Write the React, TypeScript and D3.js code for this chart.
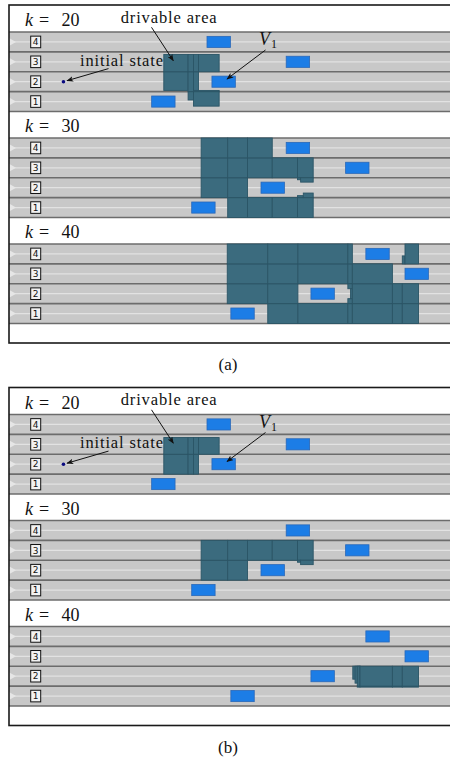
import React from "react";
import * as d3 from "d3";

// ---------- data ----------
const panelLabels = ["(a)", "(b)"];
const timeSteps = [20, 30, 40];
const laneIds = [1, 2, 3, 4];
const vehicleLanes = [4, 3, 2, 1];
const vehicleXk20 = [44.0, 61.6, 45.1, 31.7];
const vehicleXk30 = [61.6, 74.8, 56.0, 40.6];
const vehicleXk40 = [79.3, 88.0, 67.1, 49.3];
const vehicleXByStep = [vehicleXk20, vehicleXk30, vehicleXk40];
const VEH_LEN = 5.2;
const VEH_W = 0.56;
const initialStateX = 12.1;
const initialStateLane = 2;

// drivable area cells: [xStart, xEnd, yBottom, yTop] (metres, lane units)
const drivableA20 = [
  [34.4, 39.8, 1.06, 2.87],
  [39.8, 41.0, 0.58, 2.87],
  [41.0, 42.1, 1.0, 2.87],
  [42.1, 46.7, 2.0, 2.87],
  [41.0, 46.7, 0.27, 1.06],
];
const drivableA30 = [
  [42.7, 48.6, 1, 4],
  [48.6, 53.0, 0, 4],
  [53.0, 58.5, 2, 4],
  [53.0, 58.5, 0, 1],
  [58.5, 64.1, 2, 3],
  [58.5, 64.1, 0, 1],
  [64.1, 67.6, 2, 3],
  [64.1, 67.6, 0, 1],
  [64.1, 64.8, 1.9, 2.0],
  [64.8, 67.6, 1.78, 2.0],
  [64.1, 65.4, 1.0, 1.1],
  [65.4, 67.6, 1.0, 1.23],
];
const drivableA40 = [
  [48.5, 57.5, 1, 4],
  [57.5, 64.2, 0, 4],
  [64.2, 75.3, 2, 4],
  [64.2, 75.3, 0, 1],
  [75.3, 76.3, 2, 4],
  [75.3, 76.3, 0, 1],
  [75.3, 76.3, 1, 1.25],
  [75.3, 76.3, 1.75, 2],
  [75.9, 76.3, 1.25, 1.75],
  [76.3, 85.2, 0, 3],
  [85.2, 87.4, 0, 2],
  [87.4, 91.0, 0, 2],
  [87.4, 88.0, 3, 3.4],
  [88.0, 91.0, 3, 4],
];
const drivableB20 = [
  [34.4, 39.8, 1.0, 2.84],
  [39.8, 41.0, 1.0, 2.84],
  [41.0, 42.1, 1.0, 2.84],
  [42.1, 46.7, 2.0, 2.84],
];
const drivableB30 = [
  [42.7, 48.6, 1, 3],
  [48.6, 53.0, 1, 3],
  [53.0, 58.5, 2, 3],
  [58.5, 64.1, 2, 3],
  [64.1, 67.6, 2, 3],
  [64.1, 64.8, 1.9, 2.0],
  [64.8, 67.6, 1.78, 2.0],
];
const drivableB40 = [
  [76.4, 78.0, 1.35, 2],
  [76.9, 78.0, 1.15, 2],
  [77.4, 78.0, 0.95, 2],
  [78.0, 85.2, 0.95, 2],
  [85.2, 87.4, 0.95, 2],
  [87.4, 91.0, 0.95, 2],
];
const drivableByPanel = [
  [drivableA20, drivableA30, drivableA40],
  [drivableB20, drivableB30, drivableB40],
];

// ---------- layout ----------
const W = 450;
const H = 760;
const FRAME_L = 9;
const FRAME_R = 462;
const panelTops = [5, 387.5];
const subOffsets = [27, 133, 239];
const ROAD_H = 79.5;
const FRAME_H = 338;

const xScale = d3.scaleLinear().domain([0, 100]).range([FRAME_L, FRAME_L + 450]);

const C_ROAD = "#c8c8c8";
const C_LINE = "#6c6c6c";
const C_CENTER = "#e2e2e2";
const C_DRIV = "#3b6b7e";
const C_DRIV_S = "#2b5566";
const C_VEH = "#1c7de6";
const C_VEH_S = "#2a68b8";
const SERIF = "Liberation Serif, Times New Roman, Tinos, DejaVu Serif, serif";

function splitRect(r: number[]) {
  const [x0, x1, y0, y1] = r;
  const out: number[][] = [];
  let a = y0;
  while (a < y1 - 1e-9) {
    const b = Math.min(y1, Math.floor(a + 1e-9) + 1);
    out.push([x0, x1, a, b]);
    a = b;
  }
  return out;
}

function SubPanel({ top, step, stepIdx, panelIdx }: any) {
  const roadTop = top;
  const y = d3.scaleLinear().domain([0, 4]).range([roadTop + ROAD_H, roadTop]);
  const laneH = y(0) - y(1);
  const cells = drivableByPanel[panelIdx][stepIdx].flatMap(splitRect);
  const vx = vehicleXByStep[stepIdx];
  return (
    <g>
      <text y={roadTop - 6} style={{ fontFamily: SERIF }} fontSize={18} fill="#111">
        <tspan x={25} fontStyle="italic">k</tspan>
        <tspan x={39}>=</tspan>
        <tspan x={61.5}>{step}</tspan>
      </text>
      <rect x={FRAME_L} y={y(4)} width={FRAME_R - FRAME_L} height={ROAD_H} fill={C_ROAD} />
      {laneIds.map((l) => (
        <g key={"lc" + l}>
          <line x1={FRAME_L} x2={FRAME_R} y1={y(l - 0.5)} y2={y(l - 0.5)} stroke={C_CENTER} strokeWidth={1.3} />
          <path
            d={`M${FRAME_L},${y(l - 0.5) - 4} L${FRAME_L + 7},${y(l - 0.5)} L${FRAME_L},${y(l - 0.5) + 4} Z`}
            fill="#e6e6e6"
          />
          <rect x={30.7} y={y(l - 0.5) - 5.8} width={10} height={11.6} fill="#f2f2f2" stroke="#111" strokeWidth={1} />
          <text x={35.7} y={y(l - 0.5) + 3.3} textAnchor="middle" style={{ fontFamily: "DejaVu Sans, sans-serif" }} fontSize={9} fill="#111">
            {l}
          </text>
        </g>
      ))}
      {[0, 1, 2, 3, 4].map((b) => (
        <line key={"ld" + b} x1={FRAME_L} x2={FRAME_R} y1={y(b)} y2={y(b)} stroke={C_LINE} strokeWidth={1.6} />
      ))}
      {cells.map((c, i) => (
        <rect
          key={"d" + i}
          x={xScale(c[0])}
          y={y(c[3])}
          width={xScale(c[1]) - xScale(c[0])}
          height={y(c[2]) - y(c[3])}
          fill={C_DRIV}
          stroke={C_DRIV_S}
          strokeWidth={0.9}
        />
      ))}
      {vehicleLanes.map((l, i) => (
        <rect
          key={"v" + i}
          x={xScale(vx[i])}
          y={y(l - 0.5 + VEH_W / 2)}
          width={xScale(vx[i] + VEH_LEN) - xScale(vx[i])}
          height={VEH_W * laneH}
          fill={C_VEH}
          stroke={C_VEH_S}
          strokeWidth={0.8}
        />
      ))}
      {stepIdx === 0 && (
        <circle cx={xScale(initialStateX)} cy={y(initialStateLane - 0.5)} r={1.8} fill="#0a0a80" />
      )}
    </g>
  );
}

function Panel({ idx }: any) {
  const P = panelTops[idx];
  return (
    <g>
      {timeSteps.map((k, i) => (
        <SubPanel key={k} top={P + subOffsets[i]} step={k} stepIdx={i} panelIdx={idx} />
      ))}
      <text x={120.7} y={P + 17.7} style={{ fontFamily: SERIF }} fontSize={16.5} textLength={96} lengthAdjust="spacing" fill="#111">
        drivable area
      </text>
      <line x1={151.5} y1={P + 22.3} x2={173.3} y2={P + 55.7} stroke="#111" strokeWidth={1} markerEnd="url(#arr)" />
      <text x={80} y={P + 60.7} style={{ fontFamily: SERIF }} fontSize={16.5} textLength={83} lengthAdjust="spacing" fill="#111">
        initial state
      </text>
      <line x1={108.5} y1={P + 63.6} x2={67} y2={P + 75.7} stroke="#111" strokeWidth={1} markerEnd="url(#arr)" />
      <text y={P + 40} style={{ fontFamily: SERIF }} fill="#111">
        <tspan x={259} fontSize={18} fontStyle="italic">V</tspan>
        <tspan x={271} dy={3} fontSize={12}>1</tspan>
      </text>
      <line x1={265.5} y1={P + 45} x2={227} y2={P + 74} stroke="#111" strokeWidth={1} markerEnd="url(#arr)" />
      <rect x={FRAME_L} y={P} width={FRAME_R - FRAME_L} height={FRAME_H} fill="none" stroke="#1a1a1a" strokeWidth={1.6} />
      <text x={228} y={P + FRAME_H + 27} textAnchor="middle" style={{ fontFamily: SERIF }} fontSize={17} fill="#111">
        {panelLabels[idx]}
      </text>
    </g>
  );
}

export default function App() {
  return (
    <svg
      width={W}
      height={H}
      viewBox={`0 0 ${W} ${H}`}
      style={{ position: "absolute", left: 0, top: 0, background: "#fff" }}
    >
      <defs>
        <marker id="arr" viewBox="0 0 10 8" refX={9} refY={4} markerWidth={7} markerHeight={5.6} orient="auto" markerUnits="userSpaceOnUse">
          <path d="M0,0 L10,4 L0,8 L2.5,4 Z" fill="#111" />
        </marker>
      </defs>
      <rect x={0} y={0} width={W} height={H} fill="#fff" />
      {panelLabels.map((_, i) => (
        <Panel key={i} idx={i} />
      ))}
    </svg>
  );
}
